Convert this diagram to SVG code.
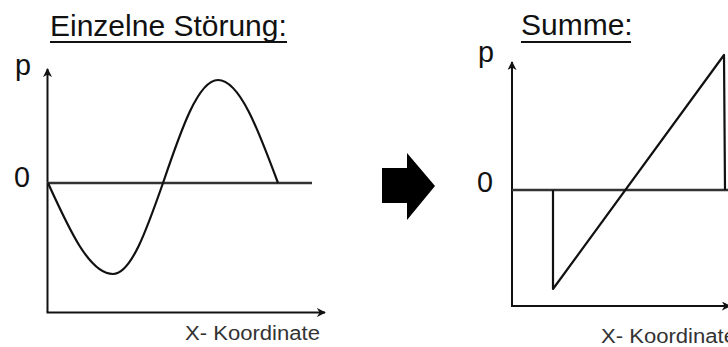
<svg xmlns="http://www.w3.org/2000/svg" width="728" height="347" viewBox="0 0 728 347">
<style>
text{font-family:"Liberation Sans",Arial,sans-serif;fill:#111}
.t{font-size:30px}
.ax{font-size:29px}
.xl{font-size:20px;fill:#333}
.ln{stroke:#111;stroke-width:2;fill:none}
.zl{stroke:#333;stroke-width:2.4;fill:none}
.cv{stroke:#111;stroke-width:2.2;fill:none;stroke-linejoin:round}
</style>
<defs>
<marker id="ah" viewBox="0 0 10 10" refX="9" refY="5" markerWidth="9" markerHeight="9" markerUnits="userSpaceOnUse" orient="auto">
<path d="M0,0 L10,5 L0,10 L3,5 z" fill="#111"/>
</marker>
</defs>
<g id="left-title">
<text class="t" x="50" y="36">Einzelne Störung:</text>
<line class="ln" x1="50" y1="42" x2="287" y2="42"/>
</g>
<g id="right-title">
<text class="t" x="521" y="35">Summe:</text>
<line class="ln" x1="521" y1="42" x2="631" y2="42"/>
</g>
<g id="left-labels">
<text class="ax" x="15" y="75" textLength="16" lengthAdjust="spacingAndGlyphs">p</text>
<text class="ax" x="14" y="187" textLength="16" lengthAdjust="spacingAndGlyphs">0</text>
<text class="xl" x="185" y="340" textLength="135" lengthAdjust="spacingAndGlyphs">X- Koordinate</text>
</g>
<g id="right-labels">
<text class="ax" x="478" y="62" textLength="16" lengthAdjust="spacingAndGlyphs">p</text>
<text class="ax" x="477" y="192" textLength="16" lengthAdjust="spacingAndGlyphs">0</text>
<text class="xl" x="601" y="343" textLength="135" lengthAdjust="spacingAndGlyphs">X- Koordinate</text>
</g>
<g id="connectors">
<line class="ln" x1="47.5" y1="312" x2="47.5" y2="69" marker-end="url(#ah)"/>
<line class="ln" x1="46.5" y1="312.5" x2="325" y2="312.5" marker-end="url(#ah)"/>
<line class="zl" x1="47" y1="183" x2="312" y2="183"/>
<line class="ln" x1="512" y1="306" x2="512" y2="62" marker-end="url(#ah)"/>
<line class="ln" x1="511" y1="306" x2="730" y2="306" marker-end="url(#ah)"/>
<line class="zl" x1="512" y1="190" x2="728" y2="190"/>
</g>
<g id="left-curve">
<path class="cv" d="M48,183 C69.2,229.6 89.5,274 113,274 C131.1,274 146.7,229.6 163,183 C180.9,130.2 198.1,80 218,80 C239.7,80 258.4,130.2 278,183"/>
</g>
<g id="right-curve">
<path class="cv" d="M553,190 L553,289 L724,55 L725,190"/>
</g>
<g id="block-arrow">
<polygon points="382,168 407,168 407,153 435,186 407,220 407,203 382,203" fill="#000"/>
</g>
</svg>
